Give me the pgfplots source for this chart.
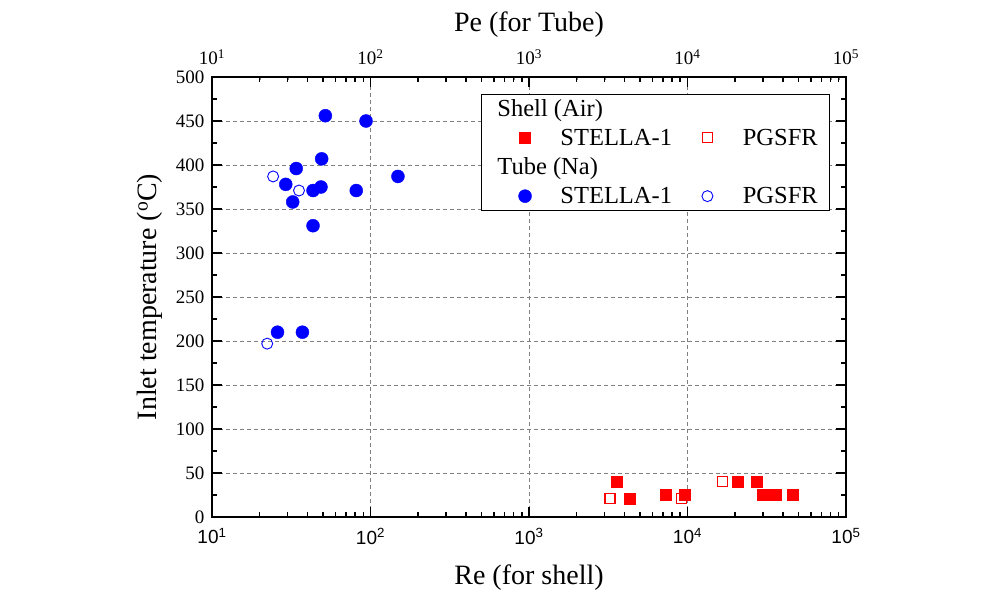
\documentclass[border=0pt]{standalone}
\usepackage{fontspec}
\setmainfont{Liberation Serif}
\newfontfamily\sansf{Liberation Sans}
\usepackage{pgfplots}
\pgfplotsset{compat=1.18}
\definecolor{gridgray}{RGB}{128,128,128}
\definecolor{myred}{RGB}{255,0,0}
\definecolor{myblue}{RGB}{0,0,255}
\begin{document}
\begin{tikzpicture}
\useasboundingbox (0,0) rectangle (1002pt,597pt);
% top axis labels only
\begin{axis}[
 at={(212pt,80pt)}, anchor=south west,
 scale only axis, width=634pt, height=440pt,
 xmode=log, xmin=10, xmax=100000,
 ymin=0, ymax=500,
 hide y axis,
 axis x line*=top,
 axis line style={draw=none},
 xtick={10,100,1000,10000,100000},
 xticklabels={10\textsuperscript{1},10\textsuperscript{2},10\textsuperscript{3},10\textsuperscript{4},10\textsuperscript{5}},
 minor xtick={},
 major tick length=0pt,
 xticklabel style={font=\fontsize{19}{22}\selectfont, yshift=9pt},
 xlabel={Pe (for Tube)},
 xlabel style={font=\fontsize{28}{32}\selectfont, at={(axis description cs:0.5,1.12)}, anchor=center},
]
\end{axis}
\begin{axis}[
 at={(212pt,80pt)}, anchor=south west,
 scale only axis, width=634pt, height=440pt,
 xmode=log, xmin=10, xmax=100000,
 ymin=0, ymax=500,
 ytick={0,50,...,500}, minor y tick num=1,
 xtick={10,100,1000,10000,100000},
 xticklabels={\sansf 10\textsuperscript{1},\sansf 10\textsuperscript{2},\sansf 10\textsuperscript{3},\sansf 10\textsuperscript{4},\sansf 10\textsuperscript{5}},
 tick align=inside, tick pos=both,
 major tick length=10pt, minor tick length=5pt,
 every tick/.style={black, line width=1.5pt},
 axis line style={line width=2.5pt},
 grid=major,
 major grid style={dash pattern=on 4pt off 3pt, gridgray, line width=0.8pt},
 xticklabel style={font=\fontsize{19}{22}\selectfont, yshift=-8pt},
 yticklabel style={font=\fontsize{19}{22}\selectfont, xshift=-4pt},
 /pgf/number format/assume math mode=true,
 xlabel={Re (for shell)},
 xlabel style={font=\fontsize{28}{32}\selectfont, at={(axis description cs:0.5,-0.137)}, anchor=center},
 ylabel={Inlet temperature (\textsuperscript{o}C)},
 ylabel style={font=\fontsize{28}{32}\selectfont, at={(axis description cs:-0.098,0.5)}, anchor=center},
 legend columns=2,
 legend cell align=left,
 legend image code/.code={\path (0pt,0pt) (66pt,0pt); \draw[#1] plot coordinates {(33pt,0pt)};},
 legend style={at={(0.975,0.961)}, anchor=north east, font=\fontsize{24.5}{28}\selectfont,
   draw=black, line width=0.8pt, inner xsep=10pt, inner ysep=3pt, row sep=7pt,
   /tikz/every even column/.append style={column sep=0pt}},
]
\addlegendimage{empty legend}\addlegendentry{\hspace*{-63pt}Shell (Air)}
\addlegendimage{empty legend}\addlegendentry{}
\addplot[only marks, mark=square*, mark size=5.5pt, myred, mark options={line width=0.4pt}] coordinates {
(3556,40) (4297,21) (7278,25) (9640,25) (20600,40) (27450,40) (29800,25) (33500,25) (36000,25) (45800,25)};
\addlegendentry{STELLA-1}
\addplot[only marks, mark=square, mark size=5pt, myred, mark options={line width=1.1pt, fill=white}] coordinates {
(3243,21) (9140,21) (16560,40)};
\addlegendentry{PGSFR}
\addlegendimage{empty legend}\addlegendentry{\hspace*{-63pt}Tube (Na)}
\addlegendimage{empty legend}\addlegendentry{}
\addplot[only marks, mark=*, mark size=6.5pt, myblue, mark options={line width=0.4pt}] coordinates {
(51.9,456) (93.7,450) (49.2,407) (34.0,396) (149,387) (29.2,378) (48.7,375) (43.4,371) (81.3,371) (32.3,358) (43.4,331) (25.9,210) (37.2,210)};
\addlegendentry{STELLA-1}
\addplot[only marks, mark=o, mark size=5.5pt, myblue, mark options={line width=0.9pt, fill=white}] coordinates {
(24.3,387) (35.4,371) (22.3,197)};
\addlegendentry{PGSFR}
\end{axis}
\end{tikzpicture}
\end{document}
